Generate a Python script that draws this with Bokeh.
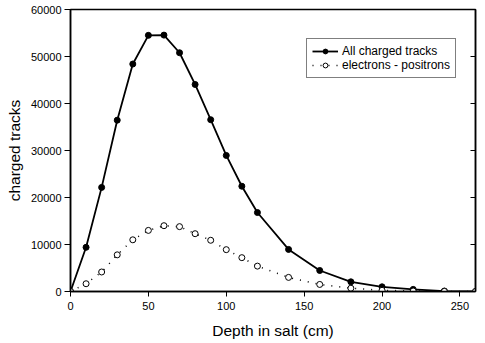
from bokeh.plotting import figure
from bokeh.models import LinearAxis, Range1d, FixedTicker, Legend, LegendItem
from bokeh.embed import file_html
from bokeh.resources import INLINE

depth_all = [0, 10, 20, 30, 40, 50, 60, 70, 80, 90, 100, 110, 120, 140, 160, 180, 200, 220, 240, 260]
all_tracks = [0, 9400, 22150, 36450, 48400, 54500, 54550, 50800, 44050, 36550, 28950, 22400, 16800, 8950, 4470, 2060, 1000, 450, 100, 0]

depth_e = [0, 10, 20, 30, 40, 50, 60, 70, 80, 90, 100, 110, 120, 140, 160, 180, 200, 220, 240, 260]
electrons = [0, 1650, 4150, 7800, 11000, 13000, 14000, 13800, 12300, 10900, 8900, 7200, 5400, 3000, 1500, 700, 250, 100, 30, 0]

x_ticks = [0, 50, 100, 150, 200, 250]
y_ticks = [0, 10000, 20000, 30000, 40000, 50000, 60000]

FONT = "Liberation Sans"

p = figure(width=485, height=343, output_backend="svg", toolbar_location=None,
           x_range=Range1d(0, 260), y_range=Range1d(0, 60000),
           min_border_left=70, min_border_right=10, min_border_top=9, min_border_bottom=52)
p.grid.visible = False
p.outline_line_color = "black"
p.outline_line_width = 1.5
p.background_fill_color = "white"

for ax in p.xaxis + p.yaxis:
    ax.axis_line_width = 1.5
    ax.axis_line_color = "black"
    ax.major_tick_line_color = "black"
    ax.major_tick_line_width = 1
    ax.major_tick_out = 6
    ax.major_tick_in = 0
    ax.minor_tick_line_color = None
    ax.major_label_text_font = FONT
    ax.major_label_text_font_size = "11px"
    ax.major_label_text_color = "black"
    ax.axis_label_text_font = FONT
    ax.axis_label_text_font_size = "15.5px"
    ax.axis_label_text_font_style = "normal"
    ax.axis_label_text_color = "black"

p.xaxis.ticker = FixedTicker(ticks=x_ticks)
p.yaxis.ticker = FixedTicker(ticks=y_ticks)
p.xaxis.axis_label = "Depth in salt (cm)"
p.yaxis.axis_label = "charged tracks"
p.xaxis.axis_label_standoff = 9
p.yaxis.axis_label_standoff = 5
p.xaxis.major_label_standoff = 5
p.xaxis.major_tick_out = 5
p.yaxis.major_label_standoff = 3

right = LinearAxis(ticker=FixedTicker(ticks=y_ticks))
right.major_label_overrides = {t: "" for t in y_ticks}
right.major_tick_in = 5
right.major_tick_out = 0
right.minor_tick_line_color = None
right.axis_line_width = 1.5
right.axis_line_color = "black"
right.major_tick_line_color = "black"
right.major_label_standoff = 0
p.add_layout(right, "right")

l1 = p.line(depth_all, all_tracks, line_color="black", line_width=1.8)
s1 = p.scatter(depth_all, all_tracks, marker="circle", size=6, fill_color="black", line_color="black")
l2 = p.line(depth_e, electrons, line_color="black", line_width=1.5, line_dash="1 7")
s2 = p.scatter(depth_e, electrons, marker="circle", size=6, fill_color="white", line_color="black", line_width=1)

legend = Legend(items=[LegendItem(label="All charged tracks", renderers=[l1, s1]),
                       LegendItem(label="electrons - positrons", renderers=[l2, s2])],
                location=(236, 213))
legend.label_text_font = FONT
legend.label_text_font_size = "12px"
legend.label_text_color = "black"
legend.label_height = 12
legend.glyph_height = 12
legend.glyph_width = 26
legend.spacing = 0
legend.padding = 5
legend.margin = 0
legend.label_standoff = 4
legend.border_line_color = "black"
legend.border_line_width = 1
legend.background_fill_alpha = 1
p.add_layout(legend)

open("out.html", "w").write(file_html(p, INLINE))
